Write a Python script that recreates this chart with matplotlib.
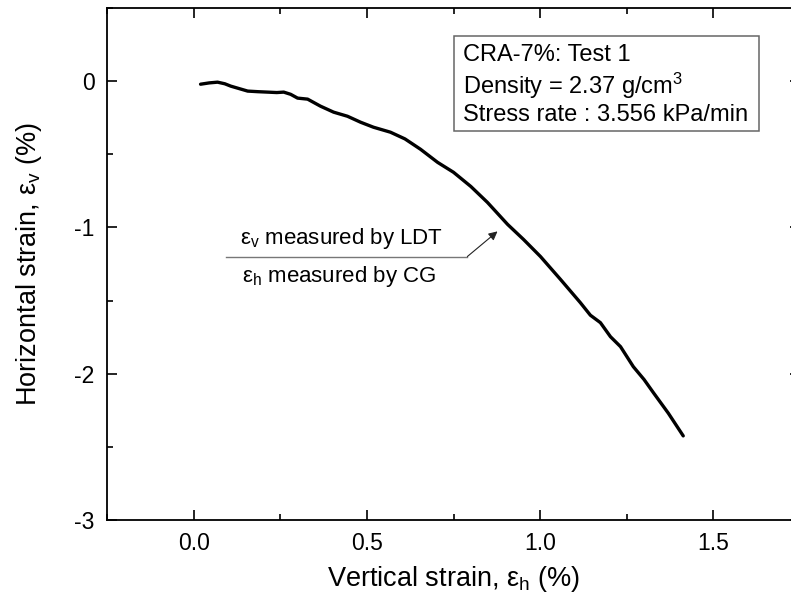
import matplotlib
matplotlib.use("Agg")
import matplotlib.pyplot as plt
from matplotlib.patches import Rectangle
from matplotlib.ticker import MultipleLocator, FormatStrFormatter

plt.rcParams['font.family'] = ['Liberation Sans', 'DejaVu Sans']
plt.rcParams['mathtext.fontset'] = 'custom'
plt.rcParams['mathtext.rm'] = 'Liberation Sans'
plt.rcParams['mathtext.it'] = 'Liberation Sans:italic'
plt.rcParams['axes.unicode_minus'] = False

# curve: vertical strain (x) vs horizontal strain (y), %
eps_x = [0.020, 0.045, 0.069, 0.090, 0.107, 0.130, 0.156, 0.185, 0.213, 0.240,
         0.260, 0.280, 0.300, 0.329, 0.366, 0.404, 0.444, 0.482, 0.519, 0.568,
         0.610, 0.655, 0.704, 0.750, 0.800, 0.848, 0.906, 0.952, 1.001, 1.059,
         1.116, 1.145, 1.174, 1.203, 1.232, 1.269, 1.300, 1.327, 1.370, 1.413]
eps_y = [-0.021, -0.012, -0.007, -0.018, -0.034, -0.050, -0.068, -0.072, -0.075, -0.078,
         -0.075, -0.090, -0.116, -0.123, -0.171, -0.212, -0.240, -0.281, -0.315, -0.349,
         -0.395, -0.466, -0.555, -0.623, -0.720, -0.829, -0.979, -1.082, -1.199, -1.356,
         -1.514, -1.600, -1.651, -1.747, -1.815, -1.952, -2.040, -2.130, -2.270, -2.425]

info_lines = ["CRA-7%: Test 1", r"Density = 2.37 g/cm$^{3}$", "Stress rate : 3.556 kPa/min"]
info_y = [0.137, -0.089, -0.274]

fig = plt.figure(figsize=(7.91, 6.05), dpi=100)
ax = fig.add_axes([107/791, 85/605, 693/791, 512/605])

ax.plot(eps_x, eps_y, color='black', lw=2.4, solid_capstyle='round')

ax.set_xlim(-0.25, 1.75)
ax.set_ylim(-3, 0.5)
ax.xaxis.set_major_locator(MultipleLocator(0.5))
ax.xaxis.set_minor_locator(MultipleLocator(0.25))
ax.yaxis.set_major_locator(MultipleLocator(1))
ax.yaxis.set_minor_locator(MultipleLocator(0.5))
ax.xaxis.set_major_formatter(FormatStrFormatter('%.1f'))
ax.yaxis.set_major_formatter(FormatStrFormatter('%d'))
ax.tick_params(which='both', direction='in', top=True, right=True, width=1.2,
               labelsize=16.5)
ax.tick_params(axis='x', pad=9)
ax.tick_params(axis='y', pad=9)
ax.tick_params(which='major', length=7)
ax.tick_params(which='minor', length=4)
for s in ax.spines.values():
    s.set_linewidth(1.3)

ax.set_xlabel(r"Vertical strain, ε$_{\rm h}$ (%)", fontsize=19.5, labelpad=6)
ax.set_ylabel(r"Horizontal strain, ε$_{\rm v}$ (%)", fontsize=19.5, labelpad=22)

# info box
ax.add_patch(Rectangle((0.75, -0.342), 0.882, 0.65, fc='white', ec='#666666', lw=1.1, zorder=3))
for txt, yy in zip(info_lines, info_y):
    ax.text(0.776, yy, txt, fontsize=17, ha='left', va='baseline', zorder=4)

# annotation with leader line
ax.plot([0.092, 0.79], [-1.199, -1.199], color='#777777', lw=1)
ax.annotate("", xy=(0.877, -1.027), xytext=(0.79, -1.199),
            arrowprops=dict(arrowstyle='-|>', color='#222222', lw=0.8,
                            mutation_scale=13, shrinkA=0, shrinkB=0))
ax.text(0.427, -1.116, r"ε$_{\rm v}$ measured by LDT", fontsize=16, ha='center', va='baseline')
ax.text(0.420, -1.37, r"ε$_{\rm h}$ measured by CG", fontsize=16, ha='center', va='baseline')

fig.savefig("out.png", dpi=100)
